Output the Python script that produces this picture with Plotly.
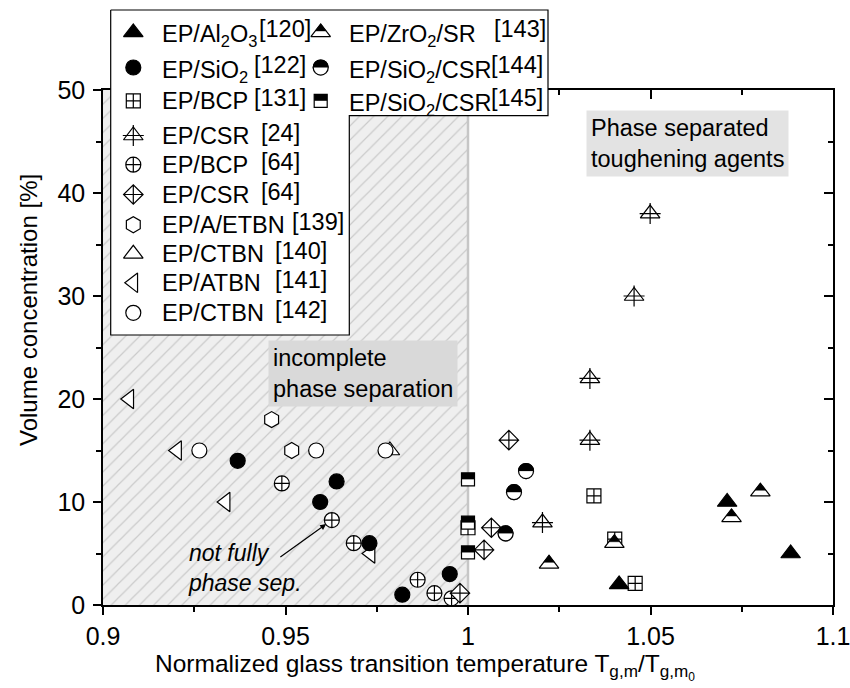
import plotly.graph_objects as go

FONT = "Liberation Sans, Arial, sans-serif"

# ---------------- data: (Tg ratio, volume concentration %) ----------------
al2o3_x = [1.0414, 1.0710, 1.0884]
al2o3_y = [2.0, 10.0, 5.0]
sio2_x = [0.9369, 0.9640, 0.9595, 0.9730, 0.9950, 0.9820]
sio2_y = [14.0, 12.0, 10.0, 6.0, 3.0, 1.0]
bcp131_x = [1.0345, 1.0402, 1.0458, 1.0]
bcp131_y = [10.6, 6.4, 2.1, 7.5]
csr24_x = [1.0499, 1.0455, 1.0334, 1.0334, 1.0204]
csr24_y = [38.0, 30.0, 22.0, 16.0, 8.0]
bcp64_x = [0.9490, 0.9627, 0.9687, 0.9862, 0.9908, 0.9955]
bcp64_y = [11.8, 8.25, 6.0, 2.45, 1.15, 0.65]
csr64_x = [0.9978, 1.0112, 1.0064, 1.0044]
csr64_y = [1.15, 16.0, 7.5, 5.35]
aetbn_x = [0.9462, 0.9517]
aetbn_y = [18.0, 15.0]
ctbn140_x = [0.9786]
ctbn140_y = [15.0]
atbn_x = [0.9072, 0.9203, 0.9336, 0.9733]
atbn_y = [20.0, 15.0, 10.0, 5.0]
ctbn142_x = [0.9264, 0.9584, 0.9774]
ctbn142_y = [15.0, 15.0, 15.0]
zro2_x = [1.0222, 1.0401, 1.0722, 1.0801]
zro2_y = [4.0, 6.0, 8.5, 11.0]
sio2csr144_x = [1.0159, 1.0126, 1.0103]
sio2csr144_y = [13.0, 10.95, 6.95]
sio2csr145_x = [1.0, 1.0, 1.0]
sio2csr145_y = [12.2, 8.0, 5.1]

# region of incomplete phase separation (Tg ratio below 1)
region_x = [0.9, 1.0]

x_tickvals = [0.9, 0.95, 1.0, 1.05, 1.1]
x_ticktext = ["0.9", "0.95", "1", "1.05", "1.1"]
y_tickvals = [0, 10, 20, 30, 40, 50]

# legend entries: (glyph, label, reference, x of reference text in px)
legend_col1 = [
    ("tri_filled", "EP/Al<sub>2</sub>O<sub>3</sub>", "[120]", 256.7),
    ("circle_filled", "EP/SiO<sub>2</sub>", "[122]", 252),
    ("square_cross", "EP/BCP", "[131]", 252),
    ("tri_cross", "EP/CSR", "[24]", 259),
    ("circle_cross", "EP/BCP", "[64]", 259),
    ("diamond_cross", "EP/CSR", "[64]", 259),
    ("hexagon", "EP/A/ETBN", "[139]", 290),
    ("tri_open", "EP/CTBN", "[140]", 273),
    ("tri_left", "EP/ATBN", "[141]", 273),
    ("circle_open", "EP/CTBN", "[142]", 273),
]
legend_col2 = [
    ("tri_half", "EP/ZrO<sub>2</sub>/SR", "[143]", 492),
    ("circle_half", "EP/SiO<sub>2</sub>/CSR", "[144]", 489),
    ("square_half", "EP/SiO<sub>2</sub>/CSR", "[145]", 489),
]

# ---------------- geometry ----------------
W, H = 850, 688
ML, MR, MT, MB = 103, 17, 5, 83
PLOT_TOP = 90                      # pixel row of the top of the data axes
X_RANGE = [0.9, 1.1]
Y_RANGE = [0, 50]
plot_h = H - MB - PLOT_TOP
paper_h = H - MB - MT
paper_w = W - ML - MR
y_dom_top = plot_h / paper_h
px_per_y = plot_h / (Y_RANGE[1] - Y_RANGE[0])

LW = 1.2
LEGEND_FONT = 23.5
SUB_DROP = 3.5      # labels holding subscripts sit a little lower


def px_x(px):
    return (px - ML) / paper_w


def px_y(py):
    return (H - MB - py) / paper_h


def shift_data(ys, d_px):
    """move values upward by d_px pixels on the data axis"""
    return [v + d_px / px_per_y for v in ys]


def shift_px(ys, d_px):
    """move values upward by d_px pixels on the pixel (legend) axis"""
    return [v - d_px for v in ys]


def glyph(kind, xs, ys, xa="x", ya="y", shift=shift_data):
    out = []

    def m(symbol, size, color, lc="black", lw=LW, yy=None):
        out.append(go.Scatter(
            x=xs, y=ys if yy is None else yy, xaxis=xa, yaxis=ya, mode="markers",
            marker=dict(symbol=symbol, size=size, color=color,
                        line=dict(color=lc, width=lw)),
            showlegend=False, hoverinfo="skip", cliponaxis=False))

    if kind == "tri_filled":
        m("triangle-up", 17, "black")
    elif kind == "circle_filled":
        m("circle", 15, "black")
    elif kind == "square_cross":
        m("square-cross", 14, "white")
    elif kind == "tri_cross":
        m("triangle-up-open", 17, "black")
        m("cross-thin-open", 15, "black")
    elif kind == "circle_cross":
        m("circle-cross", 15, "white")
    elif kind == "diamond_cross":
        m("diamond-cross", 15, "white")
    elif kind == "hexagon":
        m("hexagon", 16, "white")
    elif kind == "tri_open":
        m("triangle-up", 17, "white")
    elif kind == "tri_left":
        m("triangle-left", 17, "white")
    elif kind == "circle_open":
        m("circle", 15, "white")
    elif kind == "tri_half":
        s, f = 17, 0.55
        m("triangle-up", s, "white")
        m("triangle-up", s * f, "black", lw=0.5, yy=shift(ys, (1 - f) * s / 2))
    elif kind == "circle_half":
        s = 15
        m("circle", s, "black")
        m("line-ew", (s + 1) / 1.4, "white", lc="white", lw=s / 2,
          yy=shift(ys, -s / 4))
        m("circle-open", s, "black")
    elif kind == "square_half":
        s = 13
        m("square", s, "white")
        m("line-ew", s / 1.4, "black", lc="black", lw=s / 2, yy=shift(ys, s / 4))
    return out


fig = go.Figure()

# hatched region of incomplete phase separation
fig.add_trace(go.Scatter(
    x=[region_x[0], region_x[1], region_x[1], region_x[0], region_x[0]],
    y=[Y_RANGE[0], Y_RANGE[0], Y_RANGE[1], Y_RANGE[1], Y_RANGE[0]],
    mode="lines", line=dict(width=0), fill="toself",
    fillpattern=dict(shape="/", size=10, solidity=0.12,
                     fgcolor="#a6a6a6", bgcolor="#efefef"),
    showlegend=False, hoverinfo="skip"))
fig.add_trace(go.Scatter(
    x=[region_x[1], region_x[1]], y=Y_RANGE, mode="lines",
    line=dict(color="#c6c6c6", width=2.5), showlegend=False, hoverinfo="skip"))

# data series, later ones drawn on top
series = [
    ("tri_open", ctbn140_x, ctbn140_y),
    ("tri_left", atbn_x, atbn_y),
    ("hexagon", aetbn_x, aetbn_y),
    ("circle_open", ctbn142_x, ctbn142_y),
    ("circle_cross", bcp64_x, bcp64_y),
    ("diamond_cross", csr64_x, csr64_y),
    ("circle_filled", sio2_x, sio2_y),
    ("square_cross", bcp131_x, bcp131_y),
    ("square_half", sio2csr145_x, sio2csr145_y),
    ("circle_half", sio2csr144_x, sio2csr144_y),
    ("tri_cross", csr24_x, csr24_y),
    ("tri_half", zro2_x, zro2_y),
    ("tri_filled", al2o3_x, al2o3_y),
]
for kind, xs, ys in series:
    for t in glyph(kind, xs, ys):
        fig.add_trace(t)

# keeps the mirrored top/right axes alive
fig.add_trace(go.Scatter(x=[X_RANGE[0]], y=[Y_RANGE[0]], xaxis="x2", yaxis="y2",
                         mode="markers", marker=dict(opacity=0),
                         showlegend=False, hoverinfo="skip"))

# ---------------- legend (pixel coordinates on x3/y3) ----------------
box_l, box_t, box_r, box_b = 110.7, 10, 548, 335
col_split, col2_b = 349.3, 115.7
fig.add_trace(go.Scatter(
    x=[box_l, box_r, box_r, col_split, col_split, box_l, box_l],
    y=[box_t, box_t, col2_b, col2_b, box_b, box_b, box_t],
    xaxis="x3", yaxis="y3", mode="lines", fill="toself", fillcolor="white",
    line=dict(color="black", width=1.2), showlegend=False, hoverinfo="skip"))

rows1 = [32.4, 67.5, 100.8, 135.5, 164.7, 194.5, 224.7, 253.8, 282.8, 312.8]
rows2 = rows1[:3]
annotations = []


def legend_column(entries, rows, mark_x, text_x):
    for (kind, label, ref, ref_x), ry in zip(entries, rows):
        for t in glyph(kind, [mark_x], [ry], xa="x3", ya="y3", shift=shift_px):
            fig.add_trace(t)
        drop = SUB_DROP if "<sub>" in label else 0
        annotations.append(dict(
            x=text_x, y=ry + drop, xref="x3", yref="y3", text=label,
            showarrow=False, xanchor="left", yanchor="middle",
            font=dict(size=LEGEND_FONT)))
        annotations.append(dict(
            x=ref_x, y=ry, xref="x3", yref="y3", text=ref, showarrow=False,
            xanchor="left", yanchor="middle", yshift=3,
            font=dict(size=LEGEND_FONT)))


legend_column(legend_col1, rows1, 133.3, 159.5)
legend_column(legend_col2, rows2, 320.7, 346.5)

# ---------------- text labels ----------------
annotations += [
    dict(x=268, y=340, xref="x3", yref="y3", xanchor="left", yanchor="top",
         text="incomplete<br>phase separation", align="left", showarrow=False,
         bgcolor="#d9d9d9", borderpad=4, font=dict(size=23.5)),
    dict(x=586, y=110, xref="x3", yref="y3", xanchor="left", yanchor="top",
         text="Phase separated<br>toughening agents", align="left", showarrow=False,
         bgcolor="#e3e3e3", borderpad=4, font=dict(size=23.5)),
    dict(x=186, y=568, xref="x3", yref="y3", xanchor="left", yanchor="middle",
         text="<i>not fully<br>phase sep.</i>", align="left", showarrow=False,
         font=dict(size=23)),
    dict(x=bcp64_x[1], y=bcp64_y[1], xref="x", yref="y", text="",
         showarrow=True, ax=-53, ay=38, arrowhead=2, arrowsize=1,
         arrowwidth=1.2, arrowcolor="black", standoff=7),
    # axis titles
    dict(x=px_x(153), y=px_y(667), xref="paper", yref="paper",
         xanchor="left", yanchor="middle",
         text="Normalized glass transition temperature "
              "T<sub>g,m</sub>/T<sub>g,m<sub>0</sub></sub>",
         showarrow=False, font=dict(size=24.5)),
    dict(x=px_x(28), y=px_y(310), xref="paper", yref="paper",
         xanchor="center", yanchor="middle",
         text="Volume concentration [%]", textangle=-90, showarrow=False,
         font=dict(size=24)),
]

axis_common = dict(showgrid=False, zeroline=False, linecolor="black", linewidth=1.5,
                   tickcolor="black", tickwidth=1.5, tickfont=dict(size=25),
                   automargin=False)

fig.update_layout(
    width=W, height=H,
    margin=dict(l=ML, r=MR, t=MT, b=MB, pad=0, autoexpand=False),
    paper_bgcolor="white", plot_bgcolor="rgba(0,0,0,0)",
    font=dict(family=FONT, color="black"),
    showlegend=False,
    xaxis=dict(range=X_RANGE, domain=[0, 1], anchor="y", tickvals=x_tickvals,
               ticktext=x_ticktext, ticks="outside", ticklen=8, showline=True,
               ticklabeloverflow="allow",
               minor=dict(dtick=0.025, tick0=0.9, ticks="outside", ticklen=5,
                          tickcolor="black", tickwidth=1.5),
               **axis_common),
    yaxis=dict(range=Y_RANGE, domain=[0, y_dom_top], anchor="x", tickvals=y_tickvals,
               ticks="outside", ticklen=8, showline=True, ticklabelstandoff=3,
               minor=dict(dtick=5, tick0=0, ticks="outside", ticklen=5,
                          tickcolor="black", tickwidth=1.5),
               **axis_common),
    xaxis2=dict(range=X_RANGE, overlaying="x", side="top", anchor="y2",
                tickvals=x_tickvals, ticks="inside", ticklen=9, showticklabels=False,
                showline=True,
                minor=dict(dtick=0.025, tick0=0.9, ticks="inside", ticklen=5,
                           tickcolor="black", tickwidth=1.5),
                **axis_common),
    yaxis2=dict(range=Y_RANGE, overlaying="y", side="right", anchor="x2",
                domain=[0, y_dom_top], tickvals=y_tickvals, ticks="inside",
                ticklen=9, showticklabels=False, showline=True,
                minor=dict(dtick=5, tick0=0, ticks="inside", ticklen=5,
                           tickcolor="black", tickwidth=1.5),
                **axis_common),
    xaxis3=dict(range=[ML, W - MR], domain=[0, 1], anchor="y3", visible=False,
                fixedrange=True),
    yaxis3=dict(range=[H - MB, MT], domain=[0, 1], anchor="x3", visible=False,
                fixedrange=True),
    annotations=annotations,
)

fig.write_html("out.html")
